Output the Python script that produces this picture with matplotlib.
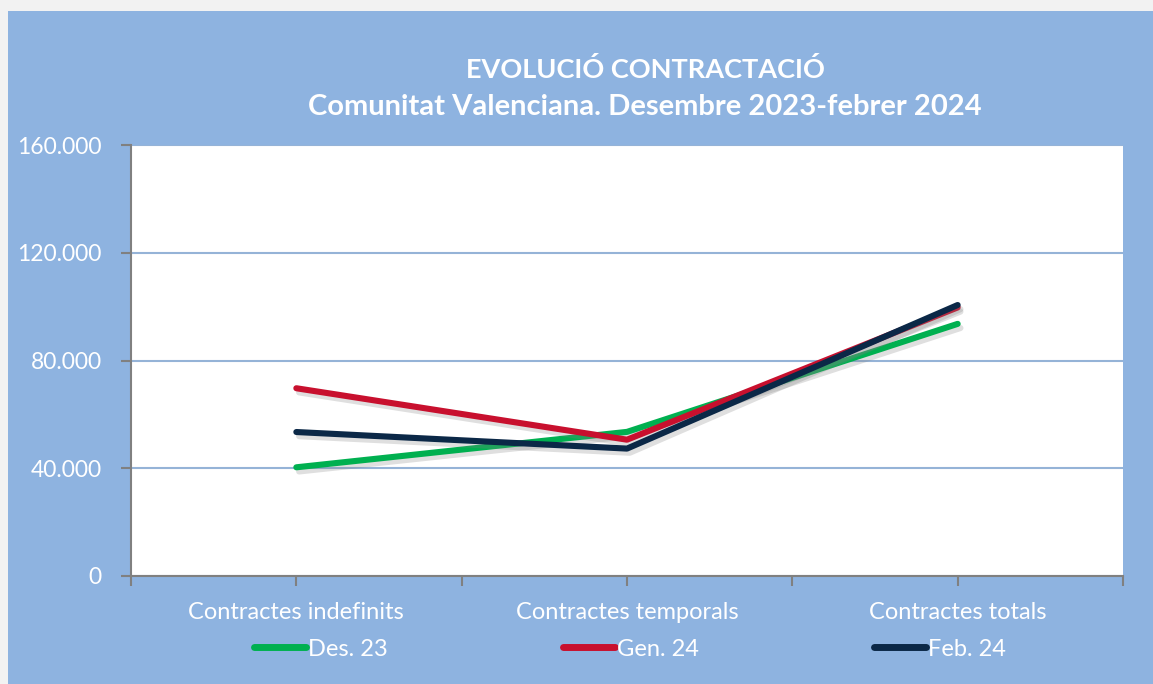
import matplotlib
matplotlib.use("Agg")
import matplotlib.pyplot as plt
import matplotlib.patheffects as pe
from matplotlib.patches import Rectangle
from matplotlib.ticker import FuncFormatter, MultipleLocator

# --- dades ---
categories = ["Contractes indefinits", "Contractes temporals", "Contractes totals"]
series_names = ["Des. 23", "Gen. 24", "Feb. 24"]
des23 = [40350, 53500, 93600]
gen24 = [69700, 50600, 99700]
feb24 = [53450, 47300, 100600]
colors = ["#00B050", "#C8102E", "#0B2847"]

plt.rcParams['font.family'] = ['Lato', 'DejaVu Sans']

fig = plt.figure(figsize=(11.53, 6.84), dpi=100)
fig.patch.set_facecolor("#F2F2F2")
bg = "#8EB3E0"
fig.patches.append(Rectangle((8 / 1153, 0), 1 - 8 / 1153, 1 - 11 / 684,
                             transform=fig.transFigure, facecolor=bg,
                             edgecolor="none", zorder=-10))

ax = fig.add_axes([131 / 1153, 108 / 684, (1123 - 131) / 1153, (576 - 145) / 684])
ax.set_facecolor("white")

x = list(range(len(categories)))
for vals, name, c in zip([des23, gen24, feb24], series_names, colors):
    ax.plot(x, vals, color=c, lw=4.4, solid_capstyle="round", label=name,
            path_effects=[pe.SimpleLineShadow(offset=(2, -3), shadow_color="gray", alpha=0.25),
                          pe.Normal()])

ax.set_xlim(-0.5, 2.5)
ax.set_ylim(0, 160000)
ax.yaxis.set_major_locator(MultipleLocator(40000))
ax.yaxis.set_major_formatter(FuncFormatter(lambda v, p: f"{int(v):,}".replace(",", ".")))
ax.grid(axis="y", color="#95B3D7", lw=1.5)
ax.set_axisbelow(True)

ax.set_xticks(x)
ax.set_xticklabels(categories)
ax.set_xticks([-0.5, 0.5, 1.5, 2.5], minor=True)
ax.tick_params(axis="x", which="both", length=7, color="#808080", width=1.5,
               labelcolor="white", labelsize=17, pad=12)
ax.tick_params(axis="y", length=7, color="#808080", width=1.5,
               labelcolor="white", labelsize=16.5, pad=14)

for s in ["top", "right"]:
    ax.spines[s].set_visible(False)
for s in ["left", "bottom"]:
    ax.spines[s].set_color("#808080")
    ax.spines[s].set_linewidth(1.5)

tx = 645 / 1153
fig.text(tx, 1 - 70 / 684, "EVOLUCIÓ CONTRACTACIÓ", ha="center", va="center",
         color="white", fontsize=19.5, fontweight="bold")
fig.text(tx, 1 - 107 / 684, "Comunitat Valenciana. Desembre 2023-febrer 2024", ha="center",
         va="center", color="white", fontsize=21, fontweight="bold")

leg = fig.legend(loc="center", bbox_to_anchor=(630 / 1153, 1 - 649 / 684), ncol=3,
                 frameon=False, fontsize=17, handlelength=2.2, handletextpad=0.1,
                 columnspacing=7.4, labelcolor="white")
for h in leg.get_lines():
    h.set_solid_capstyle("round")
    h.set_linewidth(5)
    h.set_path_effects([])

fig.savefig("out.png", dpi=100, facecolor=fig.get_facecolor())
